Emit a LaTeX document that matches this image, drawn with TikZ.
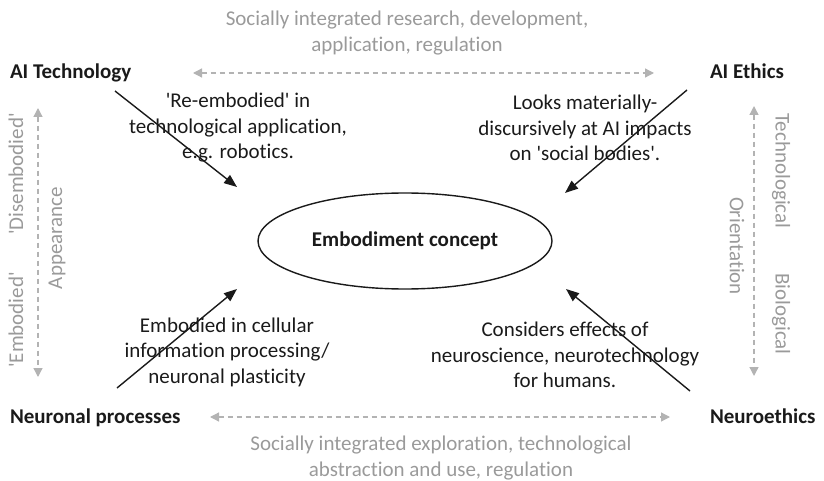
\documentclass[tikz,border=0pt]{standalone}
\usepackage{fontspec}
\setmainfont{Carlito}[Ligatures={TeX,NoCommon}]
\usetikzlibrary{arrows.meta,shapes.geometric}
\definecolor{softgrey}{HTML}{9A9A9A}
\definecolor{dashgrey}{HTML}{B3B3B3}
\definecolor{ink}{HTML}{1A1A1A}
\newcommand{\sq}{\textquotesingle}
\begin{document}
\begin{tikzpicture}[x=1pt,y=-1pt,
  every node/.style={inner sep=0pt, outer sep=0pt, text=ink,
    font=\fontsize{21}{25.5}\selectfont},
  head/.style={font=\fontsize{21}{25.5}\selectfont\bfseries},
  note/.style={align=center},
  axis/.style={text=softgrey},
  link/.style={draw=ink, line width=1.4pt, -{Triangle[length=13pt,width=10pt]}},
  span/.style={draw=dashgrey, line width=1.3pt, dash pattern=on 5pt off 4pt,
    {Triangle[length=9pt,width=9pt]}-{Triangle[length=9pt,width=9pt]}}
]
\useasboundingbox (0,0) rectangle (824,481);

% corner fields
\node[head, anchor=base west] (ait) at (10,79) {AI Technology};
\node[head, anchor=base west] (aie) at (710,79) {AI Ethics};
\node[head, anchor=base west] (neu) at (10,423) {Neuronal processes};
\node[head, anchor=base west] (nee) at (710,423) {Neuroethics};

% central concept
\node[draw=ink, line width=1.4pt, ellipse, minimum width=294pt, minimum height=96pt,
  font=\fontsize{21}{25.5}\selectfont\bfseries] (emb) at (405,241) {Embodiment concept};

% horizontal relations
\node[axis, note] (toptxt) at (407,33) {Socially integrated research, development,\\application, regulation};
\node[axis, note] (bottxt) at (441,458) {Socially integrated exploration, technological\\abstraction and use, regulation};
\coordinate (t1) at (193,73);
\coordinate (t2) at (654,73);
\coordinate (b1) at (210,417);
\coordinate (b2) at (670,417);
\draw[span] (t1) -- (t2);
\draw[span] (b1) -- (b2);

% vertical axes
\coordinate (l1) at (38,108);
\coordinate (l2) at (38,377);
\coordinate (r1) at (754,106);
\coordinate (r2) at (754,376);
\draw[span] (l1) -- (l2);
\draw[span] (r1) -- (r2);
\node[axis, rotate=90] (disemb) at (16,174) {\sq Disembodied\sq};
\node[axis, rotate=90] (embd) at (16,320) {\sq Embodied\sq};
\node[axis, rotate=90] (appear) at (57,238) {Appearance};
\node[axis, rotate=-90] (techn) at (781,171) {Technological};
\node[axis, rotate=-90] (orient) at (737,246) {Orientation};
\node[axis, rotate=-90] (biol) at (781,314) {Biological};

% arrows into the concept
\coordinate (a1s) at (115,91);
\coordinate (a1e) at (237,187);
\coordinate (a2s) at (687,90);
\coordinate (a2e) at (565,193);
\coordinate (a3s) at (117,388);
\coordinate (a3e) at (237,289);
\coordinate (a4s) at (690,391);
\coordinate (a4e) at (566,289);
\draw[link] (a1s) -- (a1e);
\draw[link] (a2s) -- (a2e);
\draw[link] (a3s) -- (a3e);
\draw[link] (a4s) -- (a4e);

\node[note] (reemb) at (238,128) {\sq Re-embodied\sq{} in\\technological application,\\e.g. robotics.};
\node[note] (looks) at (585,128) {Looks materially-\\discursively at AI impacts\\on \sq social bodies\sq.};
\node[note] (cell) at (227,352) {Embodied in cellular\\information processing/\\neuronal plasticity};
\node[note] (cons) at (565,355) {Considers effects of\\neuroscience, neurotechnology\\for humans.};
\end{tikzpicture}
\end{document}
